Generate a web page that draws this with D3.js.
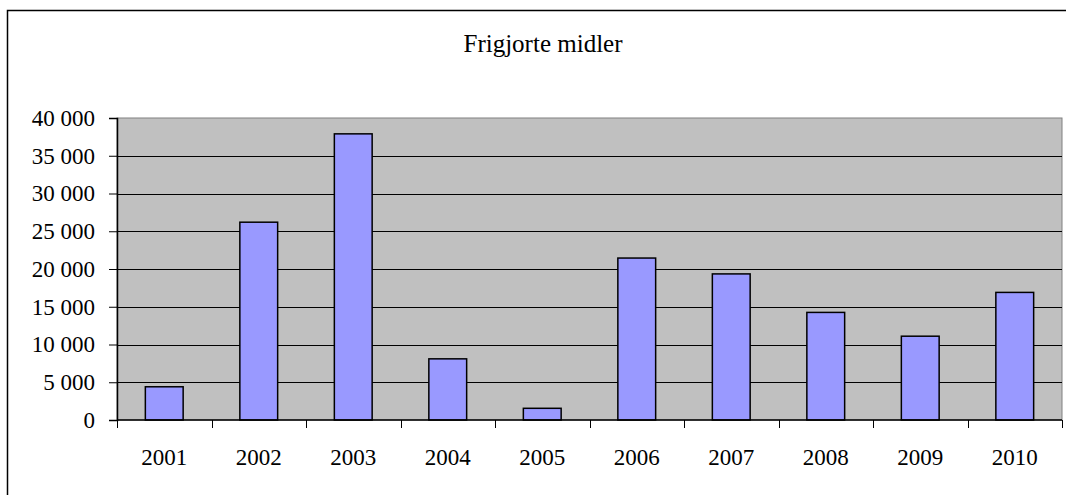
<!DOCTYPE html>
<html>
<head>
<meta charset="utf-8">
<script src="https://cdn.jsdelivr.net/npm/d3@7"></script>
<style>
  body { margin: 0; background: #fff; }
  svg { display: block; }
  svg text { font-family: "Liberation Serif", "Times New Roman", "DejaVu Serif", serif; fill: #000; }
</style>
</head>
<body>
<svg></svg>
<script>
var years = ["2001", "2002", "2003", "2004", "2005", "2006", "2007", "2008", "2009", "2010"];
var values = [4400, 26200, 37900, 8100, 1550, 21450, 19350, 14250, 11100, 16900];
var yTicks = [0, 5000, 10000, 15000, 20000, 25000, 30000, 35000, 40000];
var title = "Frigjorte midler";

var width = 1066, height = 495;

var svg = d3.select("svg").attr("width", width).attr("height", height);

// outer chart frame (runs off the right and bottom edges)
svg.append("rect")
  .attr("x", 7.5).attr("y", 10.5)
  .attr("width", 1080).attr("height", 500)
  .attr("fill", "none").attr("stroke", "#000").attr("stroke-width", 1.5);

var plot = { left: 117, top: 118, right: 1062, bottom: 420 };

var x = d3.scaleBand().domain(years).range([plot.left, plot.right]).paddingInner(0.6).paddingOuter(0.3);
var xTicks = d3.scaleBand().domain(years).range([plot.left, plot.right]);
var y = d3.scaleLinear().domain([0, 40000]).range([plot.bottom, plot.top]);

svg.append("rect")
  .attr("x", plot.left).attr("y", plot.top)
  .attr("width", plot.right - plot.left).attr("height", plot.bottom - plot.top)
  .attr("fill", "#c0c0c0").attr("stroke", "#808080").attr("stroke-width", 1);

// gridlines
svg.append("g")
  .selectAll("line")
  .data(yTicks.filter(function (d) { return d > 0 && d < 40000 }))
  .enter().append("line")
    .attr("x1", plot.left).attr("x2", plot.right)
    .attr("y1", function (d) { return Math.round(y(d)) + 0.5 })
    .attr("y2", function (d) { return Math.round(y(d)) + 0.5 })
    .attr("stroke", "#000").attr("stroke-width", 1);

svg.append("g")
  .selectAll("rect")
  .data(values)
  .enter().append("rect")
    .attr("x", function (d, i) { return x(years[i]) })
    .attr("y", function (d) { return y(d) })
    .attr("width", x.bandwidth())
    .attr("height", function (d) { return y(0) - y(d) })
    .attr("fill", "#9999ff")
    .attr("stroke", "#000").attr("stroke-width", 1.5);

// y axis
var yAxis = d3.axisLeft(y)
  .tickValues(yTicks)
  .tickSize(8)
  .tickPadding(14)
  .tickFormat(function (d) { return d3.format(",")(d).replace(/,/g, "\u00a0") });

svg.append("g")
  .attr("transform", "translate(" + plot.left + ",0)")
  .call(yAxis)
  .call(function (g) {
    g.attr("font-family", null).attr("font-size", null);
    g.select(".domain").attr("stroke", "#000").attr("stroke-width", 1.5);
    g.selectAll(".tick line").attr("stroke", "#000");
    g.selectAll("text").style("font-size", "23px").attr("fill", "#000");
  });

// x axis: ticks sit on category boundaries, labels in the middle
var xAxisG = svg.append("g").attr("transform", "translate(0," + plot.bottom + ")");
xAxisG.append("line")
  .attr("x1", plot.left).attr("x2", plot.right)
  .attr("stroke", "#000").attr("stroke-width", 1.5);
xAxisG.selectAll(".xt")
  .data(years.concat(["end"]))
  .enter().append("line")
    .attr("class", "xt")
    .attr("x1", function (d, i) { return Math.round(plot.left + i * xTicks.step()) + 0.5 })
    .attr("x2", function (d, i) { return Math.round(plot.left + i * xTicks.step()) + 0.5 })
    .attr("y1", 0).attr("y2", 8)
    .attr("stroke", "#000");
xAxisG.selectAll("text")
  .data(years)
  .enter().append("text")
    .attr("x", function (d) { return xTicks(d) + xTicks.bandwidth() / 2 })
    .attr("y", 45)
    .attr("text-anchor", "middle")
    .style("font-size", "23px")
    .text(function (d) { return d });

svg.append("text")
  .attr("x", 543).attr("y", 52)
  .attr("text-anchor", "middle")
  .style("font-size", "25px")
  .text(title);
</script>
</body>
</html>
